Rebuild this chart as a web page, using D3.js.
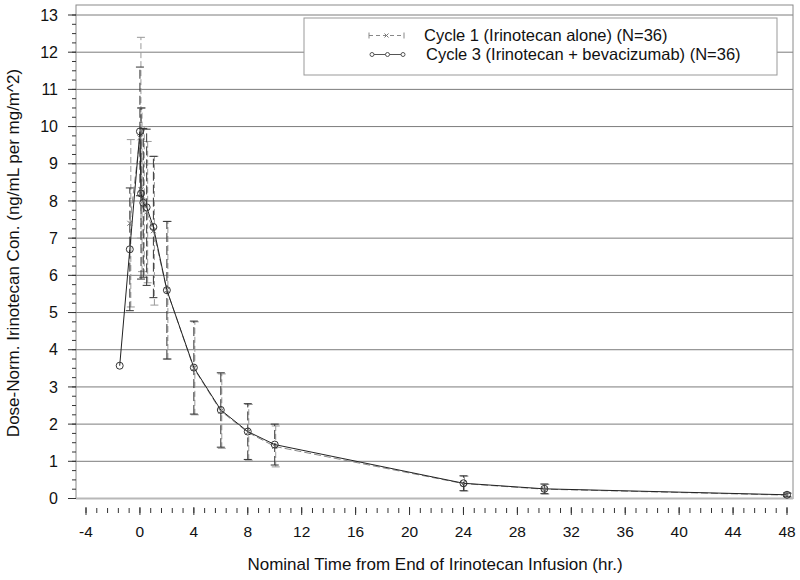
<!DOCTYPE html>
<html>
<head>
<meta charset="utf-8">
<script src="https://cdn.jsdelivr.net/npm/d3@7"></script>
<style>
  body { margin: 0; background: #fff; }
  svg { display: block; font-family: "Liberation Sans", Arial, sans-serif; }
</style>
</head>
<body>
<svg id="chart" width="800" height="580"></svg>
<script>
// Cycle 1 (irinotecan alone)
const c1Time = [-0.75, 0, 0.083, 0.25, 0.5, 1, 2, 4, 6, 8, 10, 24, 30, 48];
const c1Mean = [7.4, 9.7, 8.3, 8.0, 7.7, 7.2, 5.6, 3.5, 2.35, 1.78, 1.40, 0.40, 0.25, 0.09];
const c1Sd   = [2.25, 2.7, 2.2, 2.0, 1.9, 2.0, 1.85, 1.25, 1.0, 0.75, 0.55, 0.2, 0.13, 0.05];
// Cycle 3 (irinotecan + bevacizumab)
const c3Time = [-1.5, -0.75, 0, 0.083, 0.25, 0.5, 1, 2, 4, 6, 8, 10, 24, 30, 48];
const c3Mean = [3.57, 6.7, 9.87, 8.2, 7.95, 7.83, 7.3, 5.6, 3.52, 2.38, 1.80, 1.45, 0.41, 0.26, 0.10];
const c3Sd   = [0, 1.65, 1.73, 2.3, 2.0, 2.1, 1.9, 1.85, 1.25, 1.0, 0.75, 0.55, 0.2, 0.13, 0.05];

const xTicks = [-4, 0, 4, 8, 12, 16, 20, 24, 28, 32, 36, 40, 44, 48];
const yTicks = [0, 1, 2, 3, 4, 5, 6, 7, 8, 9, 10, 11, 12, 13];
const legendLabels = ["Cycle 1 (Irinotecan alone) (N=36)", "Cycle 3 (Irinotecan + bevacizumab) (N=36)"];
const xTitle = "Nominal Time from End of Irinotecan Infusion (hr.)";
const yTitle = "Dose-Norm. Irinotecan Con. (ng/mL per mg/m^2)";

const svg = d3.select("#chart");
const x = d3.scaleLinear().domain([-4, 48]).range([86, 787]);
const y = d3.scaleLinear().domain([0, 13]).range([498.5, 15]);

const frame = {left: 76, right: 793, top: 5, bottom: 498.5};

// grid
svg.append("g").selectAll("line").data(yTicks.filter(d => d > 0)).enter()
  .append("line")
  .attr("x1", frame.left).attr("x2", frame.right)
  .attr("y1", d => y(d)).attr("y2", d => y(d))
  .attr("stroke", "#7c7c7c").attr("stroke-width", 1);

// frame
svg.append("rect")
  .attr("x", frame.left).attr("y", frame.top)
  .attr("width", frame.right - frame.left).attr("height", frame.bottom - frame.top)
  .attr("fill", "none").attr("stroke", "#8a8a8a").attr("stroke-width", 1);
svg.append("line")
  .attr("x1", frame.left).attr("x2", frame.right).attr("y1", frame.bottom).attr("y2", frame.bottom)
  .attr("stroke", "#b8b8b8").attr("stroke-width", 2);

// x axis
const xMinor = d3.range(-4, 48.01, 0.8);
const xg = svg.append("g").attr("transform", "translate(0,507)");
xg.selectAll("line.minor").data(xMinor).enter().append("line")
  .attr("x1", d => x(d)).attr("x2", d => x(d))
  .attr("y1", 1).attr("y2", 6)
  .attr("stroke", "#333");
xg.selectAll("line.major").data(xTicks).enter().append("line")
  .attr("x1", d => x(d)).attr("x2", d => x(d))
  .attr("y1", 0).attr("y2", 8)
  .attr("stroke", "#333");
xg.selectAll("text").data(xTicks).enter().append("text")
  .attr("x", d => x(d)).attr("y", 30)
  .attr("text-anchor", "middle")
  .attr("font-size", 15.5).attr("fill", "#111")
  .text(d => d);

// y axis
const yMinor = d3.range(0, 13.01, 0.25);
const yg = svg.append("g");
yg.selectAll("line.minor").data(yMinor).enter().append("line")
  .attr("x1", 72).attr("x2", frame.left)
  .attr("y1", d => y(d)).attr("y2", d => y(d))
  .attr("stroke", "#333");
yg.selectAll("line.major").data(yTicks).enter().append("line")
  .attr("x1", 68).attr("x2", frame.left)
  .attr("y1", d => y(d)).attr("y2", d => y(d))
  .attr("stroke", "#333");
yg.selectAll("text").data(yTicks).enter().append("text")
  .attr("x", 58).attr("y", d => y(d))
  .attr("dy", "0.35em")
  .attr("text-anchor", "end")
  .attr("font-size", 16).attr("fill", "#111")
  .text(d => d);

// titles
svg.append("text")
  .attr("x", 435).attr("y", 570)
  .attr("text-anchor", "middle")
  .attr("font-size", 17).attr("fill", "#111")
  .text(xTitle);
svg.append("text")
  .attr("transform", "translate(19,253) rotate(-90)")
  .attr("text-anchor", "middle")
  .attr("font-size", 17).attr("fill", "#111")
  .text(yTitle);

// series
const c1 = c1Time.map((t, i) => ({t: t, m: c1Mean[i], s: c1Sd[i]}));
const c3 = c3Time.map((t, i) => ({t: t, m: c3Mean[i], s: c3Sd[i]}));

function errorBars(data, color, dash, offset) {
  const g = svg.append("g");
  const d0 = data.filter(d => d.s > 0);
  g.selectAll("line.bar").data(d0).enter().append("line")
    .attr("x1", d => x(d.t) + offset).attr("x2", d => x(d.t) + offset)
    .attr("y1", d => y(d.m - d.s)).attr("y2", d => y(d.m + d.s))
    .attr("stroke", color).attr("stroke-dasharray", dash);
  ["lo", "hi"].forEach(k => {
    g.selectAll("line.cap" + k).data(d0).enter().append("line")
      .attr("x1", d => x(d.t) + offset - 4).attr("x2", d => x(d.t) + offset + 4)
      .attr("y1", d => y(k === "lo" ? d.m - d.s : d.m + d.s))
      .attr("y2", d => y(k === "lo" ? d.m - d.s : d.m + d.s))
      .attr("stroke", color);
  });
}
errorBars(c1, "#999", "6,3", 1);
errorBars(c3, "#333", "9,4", 0);

const line = d3.line().x(d => x(d.t)).y(d => y(d.m));
svg.append("path").datum(c1).attr("d", line)
  .attr("fill", "none").attr("stroke", "#888").attr("stroke-dasharray", "7,3");
svg.append("path").datum(c3).attr("d", line)
  .attr("fill", "none").attr("stroke", "#222");

function cross(sel, size) {
  sel.append("path")
    .attr("d", `M${-size},${-size}L${size},${size}M${-size},${size}L${size},${-size}`)
    .attr("stroke", "#777").attr("fill", "none");
}
svg.append("g").selectAll("g").data(c1).enter().append("g")
  .attr("transform", d => `translate(${x(d.t)},${y(d.m)})`)
  .call(cross, 2.5);
svg.append("g").selectAll("circle").data(c3).enter().append("circle")
  .attr("cx", d => x(d.t)).attr("cy", d => y(d.m)).attr("r", 3.5)
  .attr("fill", "none").attr("stroke", "#333");

// legend
const lg = svg.append("g");
lg.append("rect").attr("x", 304).attr("y", 18).attr("width", 473).attr("height", 57)
  .attr("fill", "#fff").attr("stroke", "#999");
const rowY = [35.5, 54.5];
lg.selectAll("text").data(legendLabels).enter().append("text")
  .attr("x", (d, i) => i === 0 ? 424 : 426).attr("y", (d, i) => rowY[i])
  .attr("dy", "0.35em")
  .attr("font-size", 16.5).attr("fill", "#111")
  .text(d => d);
// row 1 symbol
lg.append("line").attr("x1", 369).attr("x2", 404).attr("y1", rowY[0]).attr("y2", rowY[0])
  .attr("stroke", "#888").attr("stroke-dasharray", "4,3");
[369, 404].forEach(px => lg.append("line").attr("x1", px).attr("x2", px)
  .attr("y1", rowY[0] - 3).attr("y2", rowY[0] + 3).attr("stroke", "#888"));
lg.append("g").attr("transform", `translate(386.5,${rowY[0]})`).call(cross, 2);
// row 2 symbol
lg.append("line").attr("x1", 372).attr("x2", 403).attr("y1", rowY[1]).attr("y2", rowY[1])
  .attr("stroke", "#555");
[372, 387.5, 403].forEach(px => lg.append("circle").attr("cx", px).attr("cy", rowY[1])
  .attr("r", 2).attr("fill", "#fff").attr("stroke", "#555"));
</script>
</body>
</html>
